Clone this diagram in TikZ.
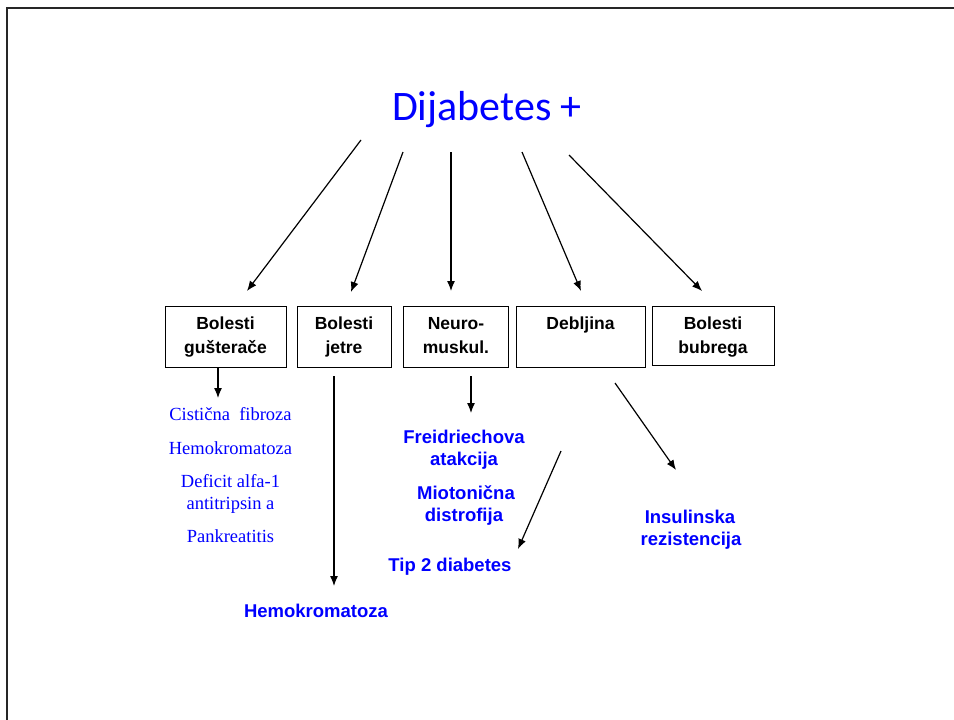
\documentclass[tikz,border=0pt]{standalone}
\usepackage{fontspec}
\setmainfont{Liberation Serif}
\newfontfamily\arialf{Liberation Sans}
\newfontfamily\calibf{Carlito}
\usetikzlibrary{arrows.meta}
\begin{document}
\begin{tikzpicture}[x=1pt,y=-1pt,
  box/.style={draw, line width=1.2pt, inner sep=0pt, anchor=north west},
  bt/.style={anchor=base, inner sep=0pt, font=\arialf\bfseries\fontsize{17.5}{21}\selectfont},
  bl/.style={anchor=base, inner sep=0pt, text=blue, font=\arialf\bfseries\fontsize{18.5}{22}\selectfont},
  tl/.style={anchor=base, inner sep=0pt, text=blue, font=\fontsize{18.5}{22}\selectfont},
  arr/.style={-{Latex[length=10pt,width=8pt]}, line width=1.2pt}]
\useasboundingbox (0,0) rectangle (954,720);
\draw[line width=2.5pt, color=black!85] (7,721) -- (7,8) -- (955,8);

% title
\node[anchor=base, inner sep=0pt, text=blue, font=\calibf\fontsize{42}{50}\selectfont] (title) at (487,120) {Dijabetes +};

% boxes
\node[box, minimum width=121pt, minimum height=61pt] (b1) at (165,306) {};
\node[box, minimum width=94pt, minimum height=61pt] (b2) at (297,306) {};
\node[box, minimum width=105pt, minimum height=61pt] (b3) at (403,306) {};
\node[box, minimum width=129pt, minimum height=61pt] (b4) at (516,306) {};
\node[box, minimum width=122pt, minimum height=59pt] (b5) at (652,306) {};

\node[bt] (t1a) at (225.5,329) {Bolesti};
\node[bt] (t1b) at (225.5,353) {gušterače};
\node[bt] (t2a) at (344,329) {Bolesti};
\node[bt] (t2b) at (344,353) {jetre};
\node[bt] (t3a) at (456,329) {Neuro-};
\node[bt] (t3b) at (456,353) {muskul.};
\node[bt] (t4a) at (580.5,329) {Debljina};
\node[bt] (t5a) at (713,329) {Bolesti};
\node[bt] (t5b) at (713,353) {bubrega};

% arrows from title
\coordinate (s1) at (361,140); \coordinate (e1) at (247,291);
\coordinate (s2) at (403,152); \coordinate (e2) at (351,292);
\coordinate (s3) at (451,152); \coordinate (e3) at (451,291);
\coordinate (s4) at (522,152); \coordinate (e4) at (581,291);
\coordinate (s5) at (569,155); \coordinate (e5) at (702,291);
\draw[arr] (s1) -- (e1);
\draw[arr] (s2) -- (e2);
\draw[arr] (s3) -- (e3);
\draw[arr] (s4) -- (e4);
\draw[arr] (s5) -- (e5);

% lower arrows
\coordinate (d1s) at (218,367); \coordinate (d1e) at (218,398);
\coordinate (d2s) at (334,376); \coordinate (d2e) at (334,586);
\coordinate (d3s) at (471,376); \coordinate (d3e) at (471,413);
\coordinate (d4s) at (561,451); \coordinate (d4e) at (518,549);
\coordinate (d5s) at (615,383); \coordinate (d5e) at (676,470);
\draw[arr] (d1s) -- (d1e);
\draw[arr] (d2s) -- (d2e);
\draw[arr] (d3s) -- (d3e);
\draw[arr] (d4s) -- (d4e);
\draw[arr] (d5s) -- (d5e);

% pancreas list
\node[tl] (p1) at (230.5,420) {Cistična\ \ fibroza};
\node[tl] (p2) at (230.5,454) {Hemokromatoza};
\node[tl] (p3) at (230.5,487) {Deficit alfa-1};
\node[tl] (p4) at (230.5,509) {antitripsin a};
\node[tl] (p5) at (230.5,542) {Pankreatitis};

% blue bold labels
\node[bl] (n1a) at (464,443) {Freidriechova};
\node[bl] (n1b) at (464,465) {atakcija};
\node[bl] (n2a) at (466,499) {Miotonična};
\node[bl] (n2b) at (464,521) {distrofija};
\node[bl] (n3) at (450,571) {Tip 2 diabetes};
\node[bl] (i1) at (690,523) {Insulinska};
\node[bl] (i2) at (691,545) {rezistencija};
\node[bl] (h1) at (316,617) {Hemokromatoza};
\end{tikzpicture}
\end{document}
